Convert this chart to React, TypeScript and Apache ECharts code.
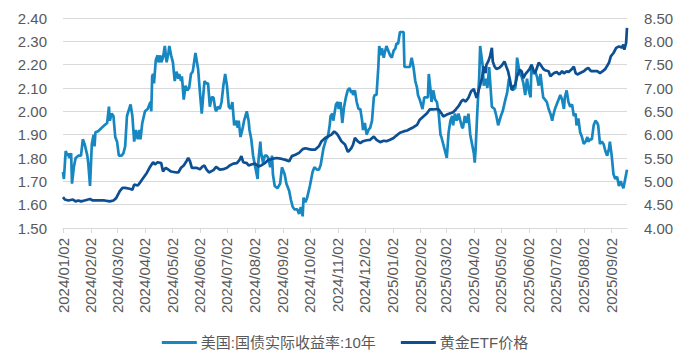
import React, { useEffect, useRef } from "react";
import * as echarts from "echarts";

const START_DATE = "2024/01/02";
const END_DATE = "2025/09/19";

const seriesNames = ["美国:国债实际收益率:10年", "黄金ETF价格"];
const leftTicks = { min: 1.5, max: 2.4, interval: 0.1 };
const rightTicks = { min: 4, max: 8.5, interval: 0.5 };

// 美国:国债实际收益率:10年 (left axis, %)
const rateData: [string, number][] = [
  ["2024/01/02", 1.74], ["2024/01/03", 1.71], ["2024/01/05", 1.83], ["2024/01/07", 1.81],
  ["2024/01/08", 1.82], ["2024/01/09", 1.8], ["2024/01/11", 1.82], ["2024/01/12", 1.69],
  ["2024/01/14", 1.76], ["2024/01/16", 1.8], ["2024/01/19", 1.81], ["2024/01/22", 1.81],
  ["2024/01/24", 1.88], ["2024/01/26", 1.86], ["2024/01/29", 1.81], ["2024/01/30", 1.78],
  ["2024/02/01", 1.68], ["2024/02/03", 1.86], ["2024/02/05", 1.9], ["2024/02/06", 1.85],
  ["2024/02/07", 1.91], ["2024/02/10", 1.915], ["2024/02/14", 1.93], ["2024/02/17", 1.94],
  ["2024/02/20", 1.95], ["2024/02/22", 2.02], ["2024/02/23", 1.96], ["2024/02/25", 1.99],
  ["2024/02/27", 1.98], ["2024/02/29", 1.89], ["2024/03/02", 1.87], ["2024/03/04", 1.81],
  ["2024/03/07", 1.81], ["2024/03/09", 1.82], ["2024/03/11", 1.85], ["2024/03/13", 1.98],
  ["2024/03/17", 2.03], ["2024/03/19", 1.98], ["2024/03/21", 1.87], ["2024/03/23", 1.92],
  ["2024/03/25", 1.88], ["2024/03/27", 1.92], ["2024/03/28", 1.88], ["2024/03/30", 1.95],
  ["2024/04/02", 2.0], ["2024/04/05", 2.01], ["2024/04/08", 2.04], ["2024/04/09", 2.0],
  ["2024/04/10", 2.15], ["2024/04/11", 2.16], ["2024/04/12", 2.12], ["2024/04/14", 2.22],
  ["2024/04/16", 2.24], ["2024/04/17", 2.21], ["2024/04/19", 2.24], ["2024/04/20", 2.21],
  ["2024/04/22", 2.23], ["2024/04/24", 2.28], ["2024/04/26", 2.21], ["2024/04/28", 2.25],
  ["2024/04/29", 2.28], ["2024/05/01", 2.24], ["2024/05/03", 2.21], ["2024/05/05", 2.13],
  ["2024/05/07", 2.17], ["2024/05/09", 2.14], ["2024/05/10", 2.16], ["2024/05/12", 2.13],
  ["2024/05/13", 2.15], ["2024/05/15", 2.05], ["2024/05/17", 2.11], ["2024/05/19", 2.09],
  ["2024/05/21", 2.1], ["2024/05/23", 2.16], ["2024/05/25", 2.17], ["2024/05/28", 2.25],
  ["2024/05/31", 2.18], ["2024/06/02", 2.08], ["2024/06/04", 1.99], ["2024/06/07", 2.13],
  ["2024/06/09", 2.12], ["2024/06/11", 2.12], ["2024/06/13", 2.02], ["2024/06/15", 2.06],
  ["2024/06/17", 2.06], ["2024/06/19", 2.01], ["2024/06/20", 2.0], ["2024/06/22", 2.02],
  ["2024/06/24", 2.01], ["2024/06/26", 2.04], ["2024/06/28", 2.11], ["2024/06/30", 2.16],
  ["2024/07/02", 2.11], ["2024/07/04", 2.02], ["2024/07/06", 2.01], ["2024/07/08", 2.04],
  ["2024/07/10", 1.94], ["2024/07/12", 1.96], ["2024/07/14", 1.93], ["2024/07/15", 1.96],
  ["2024/07/17", 1.89], ["2024/07/19", 1.92], ["2024/07/21", 1.96], ["2024/07/24", 2.0],
  ["2024/07/26", 1.96], ["2024/07/27", 1.92], ["2024/07/29", 1.88], ["2024/07/31", 1.81],
  ["2024/08/03", 1.75], ["2024/08/05", 1.71], ["2024/08/06", 1.79], ["2024/08/08", 1.87],
  ["2024/08/09", 1.82], ["2024/08/11", 1.78], ["2024/08/13", 1.81], ["2024/08/15", 1.81],
  ["2024/08/17", 1.8], ["2024/08/19", 1.76], ["2024/08/21", 1.81], ["2024/08/22", 1.73],
  ["2024/08/24", 1.68], ["2024/08/27", 1.67], ["2024/08/30", 1.69], ["2024/09/01", 1.76],
  ["2024/09/04", 1.73], ["2024/09/06", 1.69], ["2024/09/09", 1.66], ["2024/09/11", 1.62],
  ["2024/09/13", 1.59], ["2024/09/15", 1.58], ["2024/09/18", 1.58], ["2024/09/20", 1.56],
  ["2024/09/22", 1.59], ["2024/09/24", 1.55], ["2024/09/25", 1.63], ["2024/09/27", 1.61],
  ["2024/09/29", 1.63], ["2024/10/02", 1.68], ["2024/10/05", 1.74], ["2024/10/07", 1.76],
  ["2024/10/10", 1.75], ["2024/10/12", 1.75], ["2024/10/14", 1.77], ["2024/10/17", 1.84],
  ["2024/10/20", 1.88], ["2024/10/22", 1.89], ["2024/10/24", 1.94], ["2024/10/25", 1.98],
  ["2024/10/27", 1.99], ["2024/10/28", 1.96], ["2024/10/31", 2.03], ["2024/11/02", 2.04],
  ["2024/11/03", 2.01], ["2024/11/05", 2.04], ["2024/11/07", 1.95], ["2024/11/09", 2.02],
  ["2024/11/11", 2.06], ["2024/11/13", 2.09], ["2024/11/15", 2.1], ["2024/11/17", 2.08],
  ["2024/11/18", 2.09], ["2024/11/19", 2.07], ["2024/11/21", 2.09], ["2024/11/23", 2.04],
  ["2024/11/25", 2.01], ["2024/11/27", 2.01], ["2024/11/29", 1.96], ["2024/11/30", 1.92],
  ["2024/12/02", 1.95], ["2024/12/04", 1.9], ["2024/12/06", 1.92], ["2024/12/08", 1.93],
  ["2024/12/10", 1.96], ["2024/12/12", 2.06], ["2024/12/13", 2.07], ["2024/12/15", 2.07],
  ["2024/12/17", 2.19], ["2024/12/18", 2.28], ["2024/12/20", 2.24], ["2024/12/21", 2.27],
  ["2024/12/23", 2.23], ["2024/12/24", 2.25], ["2024/12/26", 2.28], ["2024/12/28", 2.26],
  ["2024/12/30", 2.24], ["2025/01/01", 2.23], ["2025/01/03", 2.26], ["2025/01/05", 2.27],
  ["2025/01/06", 2.29], ["2025/01/08", 2.29], ["2025/01/10", 2.34], ["2025/01/14", 2.34],
  ["2025/01/15", 2.19], ["2025/01/18", 2.19], ["2025/01/19", 2.19], ["2025/01/21", 2.19],
  ["2025/01/23", 2.23], ["2025/01/25", 2.19], ["2025/01/27", 2.13], ["2025/01/29", 2.1],
  ["2025/01/30", 2.07], ["2025/02/01", 2.05], ["2025/02/04", 2.01], ["2025/02/06", 2.06],
  ["2025/02/08", 2.06], ["2025/02/10", 2.06], ["2025/02/11", 2.16], ["2025/02/13", 2.09],
  ["2025/02/14", 2.04], ["2025/02/16", 2.09], ["2025/02/18", 2.05], ["2025/02/20", 2.04],
  ["2025/02/22", 1.99], ["2025/02/24", 1.9], ["2025/02/25", 1.89], ["2025/02/27", 1.86],
  ["2025/03/01", 1.83], ["2025/03/03", 1.8], ["2025/03/05", 1.91], ["2025/03/07", 1.96],
  ["2025/03/09", 1.98], ["2025/03/10", 1.94], ["2025/03/12", 1.99], ["2025/03/14", 1.96],
  ["2025/03/16", 1.99], ["2025/03/18", 1.96], ["2025/03/20", 1.93], ["2025/03/21", 1.93],
  ["2025/03/23", 1.98], ["2025/03/25", 1.95], ["2025/03/27", 1.99], ["2025/03/29", 1.9],
  ["2025/03/31", 1.86], ["2025/04/02", 1.82], ["2025/04/03", 1.78], ["2025/04/04", 1.84],
  ["2025/04/06", 2.01], ["2025/04/08", 2.15], ["2025/04/09", 2.28], ["2025/04/11", 2.22],
  ["2025/04/12", 2.19], ["2025/04/13", 2.11], ["2025/04/15", 2.14], ["2025/04/17", 2.1],
  ["2025/04/19", 2.19], ["2025/04/22", 2.02], ["2025/04/25", 2.01], ["2025/04/27", 1.98],
  ["2025/04/29", 1.94], ["2025/05/02", 1.98], ["2025/05/04", 2.0], ["2025/05/07", 2.05],
  ["2025/05/09", 2.08], ["2025/05/11", 2.14], ["2025/05/13", 2.11], ["2025/05/15", 2.09],
  ["2025/05/18", 2.1], ["2025/05/19", 2.15], ["2025/05/20", 2.23], ["2025/05/23", 2.16],
  ["2025/05/25", 2.15], ["2025/05/27", 2.12], ["2025/05/29", 2.07], ["2025/05/31", 2.14],
  ["2025/06/02", 2.09], ["2025/06/04", 2.06], ["2025/06/05", 2.2], ["2025/06/07", 2.16],
  ["2025/06/09", 2.17], ["2025/06/11", 2.15], ["2025/06/13", 2.11], ["2025/06/15", 2.16],
  ["2025/06/17", 2.09], ["2025/06/18", 2.06], ["2025/06/20", 2.05], ["2025/06/22", 2.04],
  ["2025/06/24", 2.01], ["2025/06/26", 1.99], ["2025/06/28", 1.96], ["2025/06/29", 1.98],
  ["2025/07/01", 2.01], ["2025/07/03", 2.03], ["2025/07/05", 2.05], ["2025/07/07", 2.07],
  ["2025/07/09", 2.05], ["2025/07/11", 2.01], ["2025/07/12", 2.06], ["2025/07/14", 2.09],
  ["2025/07/16", 2.04], ["2025/07/18", 2.02], ["2025/07/20", 2.03], ["2025/07/22", 1.98],
  ["2025/07/24", 1.99], ["2025/07/25", 1.94], ["2025/07/27", 1.97], ["2025/07/29", 1.91],
  ["2025/07/31", 1.89], ["2025/08/02", 1.86], ["2025/08/04", 1.87], ["2025/08/06", 1.89],
  ["2025/08/07", 1.87], ["2025/08/09", 1.88], ["2025/08/11", 1.88], ["2025/08/13", 1.94],
  ["2025/08/15", 1.96], ["2025/08/17", 1.95], ["2025/08/18", 1.94], ["2025/08/20", 1.86],
  ["2025/08/22", 1.87], ["2025/08/24", 1.86], ["2025/08/26", 1.83], ["2025/08/28", 1.81],
  ["2025/08/30", 1.84], ["2025/08/31", 1.87], ["2025/09/02", 1.81], ["2025/09/04", 1.73],
  ["2025/09/06", 1.71], ["2025/09/08", 1.72], ["2025/09/10", 1.68], ["2025/09/12", 1.7],
  ["2025/09/13", 1.69], ["2025/09/15", 1.67], ["2025/09/17", 1.71], ["2025/09/19", 1.75],
];

// 黄金ETF价格 (right axis)
const goldData: [string, number][] = [
  ["2024/01/02", 4.66], ["2024/01/04", 4.61], ["2024/01/08", 4.59], ["2024/01/13", 4.61],
  ["2024/01/16", 4.57], ["2024/01/19", 4.59], ["2024/01/22", 4.57], ["2024/01/26", 4.59],
  ["2024/02/01", 4.62], ["2024/02/04", 4.59], ["2024/02/10", 4.59], ["2024/02/17", 4.59],
  ["2024/02/23", 4.57], ["2024/02/27", 4.59], ["2024/03/01", 4.64], ["2024/03/05", 4.79],
  ["2024/03/08", 4.86], ["2024/03/11", 4.86], ["2024/03/16", 4.84], ["2024/03/19", 4.82],
  ["2024/03/21", 4.93], ["2024/03/25", 4.91], ["2024/03/27", 4.96], ["2024/03/31", 5.07],
  ["2024/04/04", 5.18], ["2024/04/07", 5.29], ["2024/04/11", 5.41], ["2024/04/13", 5.36],
  ["2024/04/16", 5.41], ["2024/04/20", 5.39], ["2024/04/22", 5.21], ["2024/04/25", 5.29],
  ["2024/04/28", 5.25], ["2024/05/01", 5.21], ["2024/05/07", 5.19], ["2024/05/09", 5.19],
  ["2024/05/12", 5.29], ["2024/05/15", 5.34], ["2024/05/18", 5.43], ["2024/05/20", 5.5],
  ["2024/05/22", 5.43], ["2024/05/24", 5.29], ["2024/05/29", 5.29], ["2024/06/02", 5.26],
  ["2024/06/05", 5.32], ["2024/06/07", 5.34], ["2024/06/09", 5.26], ["2024/06/12", 5.19],
  ["2024/06/17", 5.24], ["2024/06/20", 5.31], ["2024/06/24", 5.25], ["2024/06/28", 5.26],
  ["2024/07/02", 5.29], ["2024/07/05", 5.34], ["2024/07/09", 5.38], ["2024/07/13", 5.39],
  ["2024/07/16", 5.46], ["2024/07/18", 5.54], ["2024/07/20", 5.41], ["2024/07/24", 5.39],
  ["2024/07/26", 5.34], ["2024/07/29", 5.36], ["2024/08/02", 5.38], ["2024/08/06", 5.32],
  ["2024/08/09", 5.34], ["2024/08/13", 5.39], ["2024/08/17", 5.46], ["2024/08/21", 5.48],
  ["2024/08/26", 5.5], ["2024/09/01", 5.48], ["2024/09/05", 5.46], ["2024/09/09", 5.43],
  ["2024/09/12", 5.54], ["2024/09/16", 5.57], ["2024/09/20", 5.61], ["2024/09/24", 5.69],
  ["2024/09/27", 5.71], ["2024/10/01", 5.69], ["2024/10/04", 5.68], ["2024/10/08", 5.68],
  ["2024/10/12", 5.75], ["2024/10/15", 5.86], ["2024/10/19", 5.93], ["2024/10/22", 5.96],
  ["2024/10/26", 6.0], ["2024/10/29", 6.07], ["2024/11/01", 6.02], ["2024/11/03", 5.96],
  ["2024/11/06", 5.86], ["2024/11/10", 5.79], ["2024/11/13", 5.64], ["2024/11/14", 5.64],
  ["2024/11/17", 5.71], ["2024/11/19", 5.79], ["2024/11/21", 5.93], ["2024/11/24", 5.86],
  ["2024/11/27", 5.82], ["2024/11/30", 5.86], ["2024/12/04", 5.88], ["2024/12/08", 5.89],
  ["2024/12/12", 5.96], ["2024/12/15", 5.89], ["2024/12/19", 5.84], ["2024/12/23", 5.87],
  ["2024/12/26", 5.86], ["2024/12/30", 5.89], ["2025/01/03", 5.93], ["2025/01/06", 5.98],
  ["2025/01/10", 6.04], ["2025/01/14", 6.07], ["2025/01/18", 6.09], ["2025/01/21", 6.12],
  ["2025/01/25", 6.16], ["2025/01/29", 6.21], ["2025/02/01", 6.32], ["2025/02/05", 6.39],
  ["2025/02/09", 6.46], ["2025/02/12", 6.54], ["2025/02/16", 6.54], ["2025/02/20", 6.55],
  ["2025/02/22", 6.54], ["2025/02/25", 6.46], ["2025/02/27", 6.39], ["2025/03/03", 6.43],
  ["2025/03/07", 6.46], ["2025/03/10", 6.48], ["2025/03/13", 6.54], ["2025/03/16", 6.61],
  ["2025/03/19", 6.71], ["2025/03/21", 6.75], ["2025/03/24", 6.71], ["2025/03/27", 6.79],
  ["2025/03/30", 6.93], ["2025/04/02", 6.98], ["2025/04/03", 6.91], ["2025/04/05", 6.79],
  ["2025/04/07", 6.93], ["2025/04/09", 7.06], ["2025/04/11", 7.21], ["2025/04/13", 7.46],
  ["2025/04/15", 7.32], ["2025/04/16", 7.5], ["2025/04/18", 7.57], ["2025/04/20", 7.68],
  ["2025/04/22", 7.86], ["2025/04/23", 7.57], ["2025/04/25", 7.46], ["2025/04/27", 7.41],
  ["2025/04/30", 7.43], ["2025/05/03", 7.48], ["2025/05/06", 7.57], ["2025/05/08", 7.46],
  ["2025/05/10", 7.36], ["2025/05/12", 7.18], ["2025/05/14", 6.96], ["2025/05/16", 7.04],
  ["2025/05/18", 7.07], ["2025/05/20", 7.25], ["2025/05/23", 7.39], ["2025/05/25", 7.36],
  ["2025/05/27", 7.21], ["2025/05/29", 7.29], ["2025/06/01", 7.36], ["2025/06/03", 7.41],
  ["2025/06/05", 7.5], ["2025/06/07", 7.39], ["2025/06/09", 7.32], ["2025/06/11", 7.43],
  ["2025/06/13", 7.54], ["2025/06/15", 7.5], ["2025/06/18", 7.41], ["2025/06/20", 7.38],
  ["2025/06/24", 7.36], ["2025/06/26", 7.25], ["2025/06/28", 7.29], ["2025/06/30", 7.32],
  ["2025/07/03", 7.34], ["2025/07/06", 7.29], ["2025/07/09", 7.36], ["2025/07/11", 7.31],
  ["2025/07/14", 7.36], ["2025/07/16", 7.34], ["2025/07/19", 7.39], ["2025/07/22", 7.46],
  ["2025/07/24", 7.32], ["2025/07/26", 7.29], ["2025/07/29", 7.32], ["2025/08/02", 7.36],
  ["2025/08/05", 7.41], ["2025/08/07", 7.43], ["2025/08/10", 7.36], ["2025/08/13", 7.36],
  ["2025/08/17", 7.36], ["2025/08/20", 7.32], ["2025/08/23", 7.36], ["2025/08/26", 7.41],
  ["2025/08/30", 7.54], ["2025/09/01", 7.68], ["2025/09/04", 7.75], ["2025/09/07", 7.86],
  ["2025/09/10", 7.89], ["2025/09/12", 7.88], ["2025/09/13", 7.86], ["2025/09/15", 7.93],
  ["2025/09/16", 7.82], ["2025/09/18", 7.96], ["2025/09/19", 8.29],
];

const pad = (n: number) => (n < 10 ? "0" + n : "" + n);

function buildCategories(start: string, end: string): string[] {
  const [sy, sm, sd] = start.split("/").map(Number);
  const [ey, em, ed] = end.split("/").map(Number);
  const cur = new Date(Date.UTC(sy, sm - 1, sd));
  const last = Date.UTC(ey, em - 1, ed);
  const out: string[] = [];
  while (cur.getTime() <= last) {
    out.push(`${cur.getUTCFullYear()}/${pad(cur.getUTCMonth() + 1)}/${pad(cur.getUTCDate())}`);
    cur.setUTCDate(cur.getUTCDate() + 1);
  }
  return out;
}

const categories = buildCategories(START_DATE, END_DATE);
const isTickDay = (_i: number, v: string) => typeof v === "string" && v.endsWith("/02");

const FONT = "'Liberation Sans', Arial, 'Noto Sans CJK SC', sans-serif";
const TEXT_COLOR = "#595959";
const GRID_COLOR = "#d9d9d9";

export default function App() {
  const ref = useRef<HTMLDivElement>(null);
  useEffect(() => {
    document.body.style.margin = "0";
    if (!ref.current) return;
    const chart = echarts.init(ref.current, undefined, { renderer: "svg" });
    chart.setOption({
      animation: false,
      textStyle: { fontFamily: FONT },
      grid: {
        left: 63,
        right: 63,
        top: 18,
        bottom: 136,
        containLabel: false,
        outerBoundsMode: "none",
      },
      legend: {
        data: seriesNames,
        left: "center",
        top: 330,
        icon: "rect",
        itemWidth: 35,
        itemHeight: 3,
        itemGap: 25,
        textStyle: {
          fontFamily: "'Liberation Sans', 'Noto Sans CJK SC', sans-serif",
          fontSize: 15,
          color: TEXT_COLOR,
          padding: [0, 0, 0, -1],
        },
      },
      xAxis: {
        type: "category",
        data: categories,
        boundaryGap: false,
        axisLine: { show: true, lineStyle: { color: GRID_COLOR, width: 1 } },
        axisTick: {
          show: true,
          interval: isTickDay,
          length: 5,
          lineStyle: { color: GRID_COLOR },
        },
        axisLabel: {
          interval: isTickDay,
          rotate: 90,
          margin: 10,
          fontSize: 15,
          color: TEXT_COLOR,
          fontFamily: FONT,
        },
        splitLine: { show: false },
      },
      yAxis: [
        {
          type: "value",
          min: leftTicks.min,
          max: leftTicks.max,
          interval: leftTicks.interval,
          axisLine: { show: false },
          axisTick: { show: false },
          axisLabel: {
            fontSize: 15,
            color: TEXT_COLOR,
            margin: 16,
            fontFamily: FONT,
            formatter: (v: number) => v.toFixed(2),
          },
          splitLine: { show: true, lineStyle: { color: GRID_COLOR, width: 1 } },
        },
        {
          type: "value",
          min: rightTicks.min,
          max: rightTicks.max,
          interval: rightTicks.interval,
          axisLine: { show: false },
          axisTick: { show: false },
          axisLabel: {
            fontSize: 15,
            color: TEXT_COLOR,
            margin: 17,
            fontFamily: FONT,
            formatter: (v: number) => v.toFixed(2),
          },
          splitLine: { show: false },
        },
      ],
      series: [
        {
          name: seriesNames[0],
          type: "line",
          yAxisIndex: 0,
          data: rateData,
          showSymbol: false,
          symbol: "none",
          lineStyle: { color: "#1787c2", width: 2.7 },
          itemStyle: { color: "#1787c2" },
        },
        {
          name: seriesNames[1],
          type: "line",
          yAxisIndex: 1,
          data: goldData,
          showSymbol: false,
          symbol: "none",
          lineStyle: { color: "#0c4f93", width: 2.7 },
          itemStyle: { color: "#0c4f93" },
        },
      ],
    });
    return () => chart.dispose();
  }, []);
  return <div ref={ref} style={{ width: 690, height: 364 }} />;
}
